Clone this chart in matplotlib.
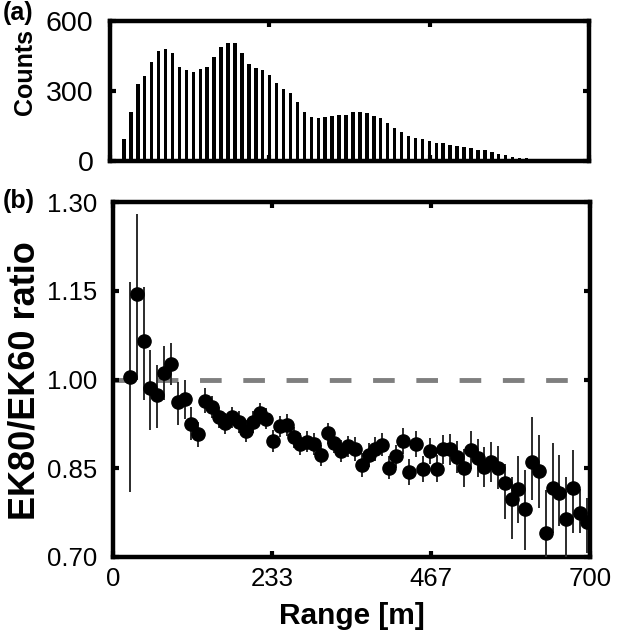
import numpy as np
import matplotlib
matplotlib.use("Agg")
import matplotlib.pyplot as plt

plt.rcParams['font.family'] = ['Liberation Sans', 'DejaVu Sans']

# (a) histogram of ranges
counts = [94, 209, 329, 364, 424, 471, 479, 462, 402, 389, 383, 394, 402, 447, 487,
          504, 504, 462, 414, 400, 391, 367, 334, 307, 290, 253, 210, 190, 183, 190,
          194, 196, 197, 211, 210, 207, 194, 183, 161, 140, 124, 109, 100, 93, 84,
          79, 76, 69, 66, 61, 56, 47, 46, 40, 31, 24, 18, 14, 11, 9]
bin_w = 700 / 69.
bin_centers = (np.arange(len(counts)) + 2) * bin_w

# (b) EK80/EK60 ratio vs range
ranges = np.arange(25, 700, 10)
ratio = [1.005, 1.144, 1.065, 0.986, 0.973, 1.011, 1.026, 0.962, 0.967, 0.924,
         0.908, 0.964, 0.954, 0.936, 0.926, 0.936, 0.928, 0.913, 0.928, 0.943,
         0.934, 0.896, 0.921, 0.923, 0.902, 0.891, 0.895, 0.891, 0.872, 0.909,
         0.893, 0.879, 0.887, 0.882, 0.855, 0.872, 0.883, 0.890, 0.851, 0.870,
         0.896, 0.844, 0.891, 0.849, 0.879, 0.849, 0.882, 0.882, 0.869, 0.850,
         0.881, 0.868, 0.852, 0.861, 0.851, 0.825, 0.798, 0.815, 0.781, 0.861,
         0.845, 0.741, 0.817, 0.809, 0.764, 0.817, 0.775, 0.759]
ratio_lo = [0.810, 1.000, 0.965, 0.914, 0.918, 0.965, 0.990, 0.923, 0.934, 0.897,
            0.886, 0.943, 0.935, 0.918, 0.908, 0.918, 0.910, 0.895, 0.910, 0.925,
            0.916, 0.878, 0.903, 0.905, 0.884, 0.873, 0.877, 0.873, 0.854, 0.891,
            0.875, 0.861, 0.869, 0.862, 0.835, 0.852, 0.863, 0.870, 0.831, 0.850,
            0.874, 0.822, 0.869, 0.827, 0.857, 0.826, 0.857, 0.856, 0.842, 0.818,
            0.849, 0.836, 0.818, 0.827, 0.815, 0.765, 0.731, 0.757, 0.712, 0.797,
            0.782, 0.690, 0.740, 0.752, 0.695, 0.740, 0.740, 0.707]
ratio_hi = [1.165, 1.280, 1.157, 1.050, 1.024, 1.056, 1.062, 0.996, 1.000, 0.954,
            0.928, 0.985, 0.972, 0.954, 0.944, 0.954, 0.946, 0.931, 0.946, 0.961,
            0.952, 0.914, 0.939, 0.941, 0.920, 0.909, 0.913, 0.909, 0.890, 0.927,
            0.911, 0.897, 0.905, 0.902, 0.875, 0.892, 0.903, 0.910, 0.871, 0.890,
            0.918, 0.866, 0.913, 0.871, 0.901, 0.872, 0.907, 0.908, 0.896, 0.882,
            0.913, 0.900, 0.886, 0.895, 0.887, 0.858, 0.835, 0.870, 0.847, 0.937,
            0.906, 0.813, 0.892, 0.872, 0.835, 0.881, 0.815, 0.800]

x_ticks = [0, 233, 467, 700]
x_tick_labels = ['0', '233', '467', '700']
count_ticks = [0, 300, 600]
ratio_ticks = [0.70, 0.85, 1.00, 1.15, 1.30]

W, H = 617, 642
fig = plt.figure(figsize=(W / 100, H / 100), dpi=100)


def px_axes(l, t, r, b):
    return fig.add_axes([l / W, 1 - b / H, (r - l) / W, (b - t) / H])


def style(ax):
    for s in ax.spines.values():
        s.set_linewidth(3.2)
    ax.tick_params(direction='in', length=4, width=3, top=True, right=True,
                   labelsize=18.5, pad=7)


ax1 = px_axes(110, 21, 589, 161)
ax1.bar(bin_centers, counts, width=0.5 * bin_w, color='black')
ax1.set_xlim(0, 700)
ax1.set_ylim(0, 600)
ax1.set_xticks(x_ticks)
ax1.set_xticklabels([])
ax1.set_yticks(count_ticks)
style(ax1)
ax1.tick_params(axis='y', labelsize=20.5, pad=12)

ax2 = px_axes(113, 202, 590, 557)
ax2.axhline(1.0, color='#7f7f7f', lw=3.5, dashes=[4.45, 4.45], zorder=1)
yerr = [np.array(ratio) - np.array(ratio_lo), np.array(ratio_hi) - np.array(ratio)]
ax2.errorbar(ranges, ratio, yerr=yerr, fmt='o', color='black', ms=9.5,
             ecolor='#2b2b2b', elinewidth=1.4, capsize=0, zorder=3)
ax2.set_xlim(0, 700)
ax2.set_ylim(0.70, 1.30)
ax2.set_xticks(x_ticks)
ax2.set_xticklabels(x_tick_labels)
ax2.set_yticks(ratio_ticks)
ax2.set_yticklabels(['%.2f' % v for v in ratio_ticks])
style(ax2)
ax2.tick_params(axis='y', pad=11)
ax2.set_xlabel('Range [m]', fontsize=21.5, fontweight='bold', labelpad=8)

fig.text(25 / W, 1 - 72 / H, 'Counts', rotation=90, ha='center', va='center',
         fontsize=18, fontweight='bold')
fig.text(25 / W, 1 - 381 / H, 'EK80/EK60 ratio', rotation=90, ha='center',
         va='center', fontsize=26, fontweight='bold')
fig.text(3 / W, 1 - 13 / H, '(a)', ha='left', va='center', fontsize=18,
         fontweight='bold')
fig.text(3 / W, 1 - 201 / H, '(b)', ha='left', va='center', fontsize=18,
         fontweight='bold')

fig.savefig('out.png', dpi=100)
